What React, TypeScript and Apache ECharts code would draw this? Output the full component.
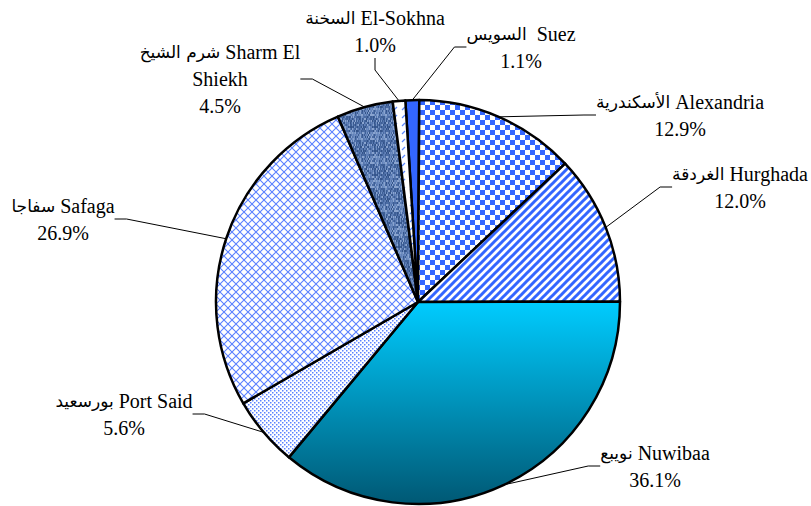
import React, { useEffect, useRef } from "react";
import * as echarts from "echarts";

// ---- data ----
const arNames = ["السويس", "الأسكندرية", "الغردقة", "نويبع", "بورسعيد", "سفاجا", "شرم الشيخ", "السخنة"];
const enNames = ["Suez", "Alexandria", "Hurghada", "Nuwibaa", "Port Said", "Safaga", "Sharm El\nShiekh", "El-Sokhna"];
const shares = [1.1, 12.9, 12.0, 36.1, 5.6, 26.9, 4.5, 1.0];

// ---- label placement (text block centres) ----
const labelPos: number[][] = [
  [521, 47],
  [680, 115],
  [740, 187],
  [655, 466],
  [124, 414],
  [63, 219],
  [220, 79],
  [375, 31],
];
const nameGap = [2, 1, 1, 1, 1, 1, 1, 1];

function makeCanvas(w: number, h: number, draw: (ctx: CanvasRenderingContext2D) => void) {
  const c = document.createElement("canvas");
  c.width = w;
  c.height = h;
  const ctx = c.getContext("2d")!;
  draw(ctx);
  return c;
}

const BLUE = "#3366FF";

function patterns() {
  const checker = makeCanvas(10, 10, (ctx) => {
    ctx.fillStyle = "#fff";
    ctx.fillRect(0, 0, 10, 10);
    ctx.fillStyle = BLUE;
    ctx.fillRect(0, 0, 5, 5);
    ctx.fillRect(5, 5, 5, 5);
  });
  const stripes = makeCanvas(8, 8, (ctx) => {
    ctx.fillStyle = "#fff";
    ctx.fillRect(0, 0, 8, 8);
    ctx.strokeStyle = BLUE;
    ctx.lineWidth = 3;
    ctx.beginPath();
    ctx.moveTo(-2, 10);
    ctx.lineTo(10, -2);
    ctx.moveTo(-6, 6);
    ctx.lineTo(6, -6);
    ctx.moveTo(2, 14);
    ctx.lineTo(14, 2);
    ctx.stroke();
  });
  const dots = makeCanvas(4, 4, (ctx) => {
    ctx.fillStyle = "#fff";
    ctx.fillRect(0, 0, 4, 4);
    ctx.fillStyle = "#5B82FF";
    ctx.fillRect(0, 0, 1.5, 1.5);
    ctx.fillRect(2, 2, 1.5, 1.5);
  });
  const cross = makeCanvas(8, 8, (ctx) => {
    ctx.fillStyle = "#fff";
    ctx.fillRect(0, 0, 8, 8);
    ctx.strokeStyle = "#5A80FF";
    ctx.lineWidth = 1.1;
    ctx.beginPath();
    ctx.moveTo(-1, 9);
    ctx.lineTo(9, -1);
    ctx.moveTo(-1, -1);
    ctx.lineTo(9, 9);
    ctx.stroke();
  });
  const denim = makeCanvas(24, 24, (ctx) => {
    const shades = ["#3E5F96", "#5576AE", "#6F8FC2", "#4A6BA3", "#8AA4CF", "#34548A", "#6281B8"];
    for (let i = 0; i < 24; i++) {
      for (let j = 0; j < 12; j++) {
        const k = ((i * 5 + j * 11) ^ (i * j * 3 + 7) ^ (i >> 1)) % shades.length;
        ctx.fillStyle = shades[k];
        ctx.fillRect(i, j * 2, 1, 2);
      }
    }
  });
  const dashes = makeCanvas(8, 8, (ctx) => {
    ctx.fillStyle = "#fff";
    ctx.fillRect(0, 0, 8, 8);
    ctx.strokeStyle = "#5A88FF";
    ctx.lineWidth = 1.2;
    ctx.beginPath();
    ctx.moveTo(2, 6);
    ctx.lineTo(5, 3);
    ctx.stroke();
  });
  const gradient = new echarts.graphic.LinearGradient(0, 0, 0, 1, [
    { offset: 0, color: "#00CCFF" },
    { offset: 1, color: "#005874" },
  ]);
  const pat = (img: HTMLCanvasElement) => ({ image: img, repeat: "repeat" } as any);
  return [BLUE, pat(checker), pat(stripes), gradient, pat(dots), pat(cross), pat(denim), pat(dashes)];
}

const FONT = "'Liberation Serif', 'Times New Roman', serif";

export default function App() {
  const ref = useRef<HTMLDivElement>(null);
  useEffect(() => {
    if (!ref.current) return;
    const chart = echarts.init(ref.current, undefined, { renderer: "svg" });
    const fills = patterns();
    chart.setOption({
      animation: false,
      backgroundColor: "#fff",
      series: [
        {
          type: "pie",
          center: [418, 302],
          radius: 202,
          startAngle: 93.6,
          clockwise: true,
          avoidLabelOverlap: false,
          data: enNames.map((name, i) => ({
            name,
            value: shares[i],
            itemStyle: { color: fills[i] },
          })),
          itemStyle: { borderColor: "#000", borderWidth: 2.5 },
          label: {
            show: true,
            position: "outside",
            formatter: (p: any) => {
              const i = p.dataIndex;
              const en = enNames[i].split("\n");
              const first = `{ar|${arNames[i]}}{en|${"\u00a0".repeat(nameGap[i])}${en[0]}}`;
              const rest = en.slice(1).map((s) => `{en|${s}}`);
              return [first, ...rest, `{en|${shares[i].toFixed(1)}%}`].join("\n");
            },
            fontFamily: FONT,
            fontSize: 20,
            lineHeight: 27,
            color: "#000",
            align: "center",
            rich: {
              en: { fontFamily: FONT, fontSize: 20, lineHeight: 27, color: "#000" },
              ar: { fontFamily: "'DejaVu Sans', sans-serif", fontSize: 17, lineHeight: 27, color: "#000" },
            },
          },
          labelLine: {
            show: true,
            length: 12,
            length2: 12,
            lineStyle: { color: "#000", width: 1 },
            minTurnAngle: 90,
          },
          labelLayout: (p: any) => ({
            x: labelPos[p.dataIndex][0],
            y: labelPos[p.dataIndex][1],
            align: "center",
            verticalAlign: "middle",
          }),
          emphasis: { disabled: true },
        },
      ],
    });
    return () => chart.dispose();
  }, []);
  return (
    <div
      ref={ref}
      style={{ position: "fixed", left: 0, top: 0, width: 811, height: 506 }}
    />
  );
}
